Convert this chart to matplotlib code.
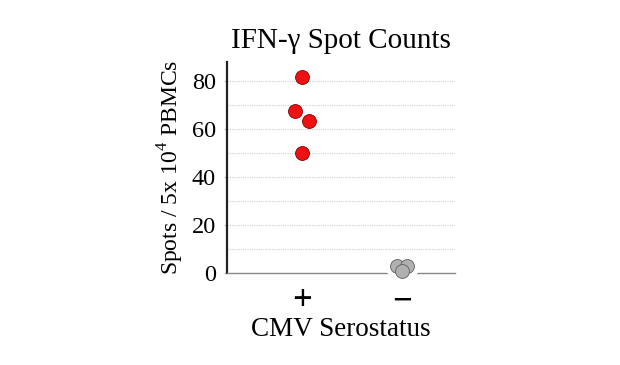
import matplotlib.pyplot as plt
import numpy as np

# data
groups = ['+', '\u2212']
pos_x = [0.0, -0.07, 0.07, 0.0]
pos_y = [81.8, 67.6, 63.3, 49.8]
neg_x = [0.95, 1.05, 1.0]
neg_y = [2.6, 2.6, 0.9]
yticks = [0, 20, 40, 60, 80]

plt.rcParams['font.family'] = ['Liberation Serif', 'DejaVu Serif']

fig = plt.figure(figsize=(6.2, 3.65), dpi=100)
ax = fig.add_axes([0.366, 0.253, 0.368, 0.577])

# dotted grid every 10
for g in np.arange(10, 90, 10):
    ax.axhline(g, color='#d0d0d0', lw=0.8, ls=(0, (1, 1)), zorder=0)

ax.scatter(pos_x, pos_y, s=100, color='#ee1111', edgecolor='#8a0000', lw=0.6, zorder=3, clip_on=False)
# white halo behind the grey points, cuts the baseline like in the original
ax.scatter(neg_x, neg_y, s=300, color='white', lw=0, zorder=3, clip_on=False)
ax.scatter(neg_x, neg_y, s=100, color='#b0b0b0', edgecolor='#606060', lw=0.6, zorder=4, clip_on=False)

ax.set_xlim(-0.75, 1.53)
ax.set_ylim(0, 88)
ax.set_xticks([0, 1])
ax.set_xticklabels(groups, fontsize=25, fontweight='bold')
ax.set_yticks(yticks)
ax.tick_params(axis='x', length=0, pad=9)
ax.tick_params(axis='y', length=2, width=0.8, labelsize=17.5, color='#bbbbbb', pad=6)

for s in ['top', 'right']:
    ax.spines[s].set_visible(False)
ax.spines['left'].set_color('#222222')
ax.spines['left'].set_linewidth(1.6)
ax.spines['bottom'].set_color('#888888')
ax.spines['bottom'].set_linewidth(1.0)

ax.set_title('IFN-\u03b3 Spot Counts', fontsize=21, pad=10)
ax.set_ylabel('Spots / 5x 10$^{\\mathregular{4}}$ PBMCs', fontsize=17, labelpad=4)
ax.set_xlabel('CMV Serostatus', fontsize=19.5, labelpad=-1)

fig.savefig('out.png', dpi=100)
